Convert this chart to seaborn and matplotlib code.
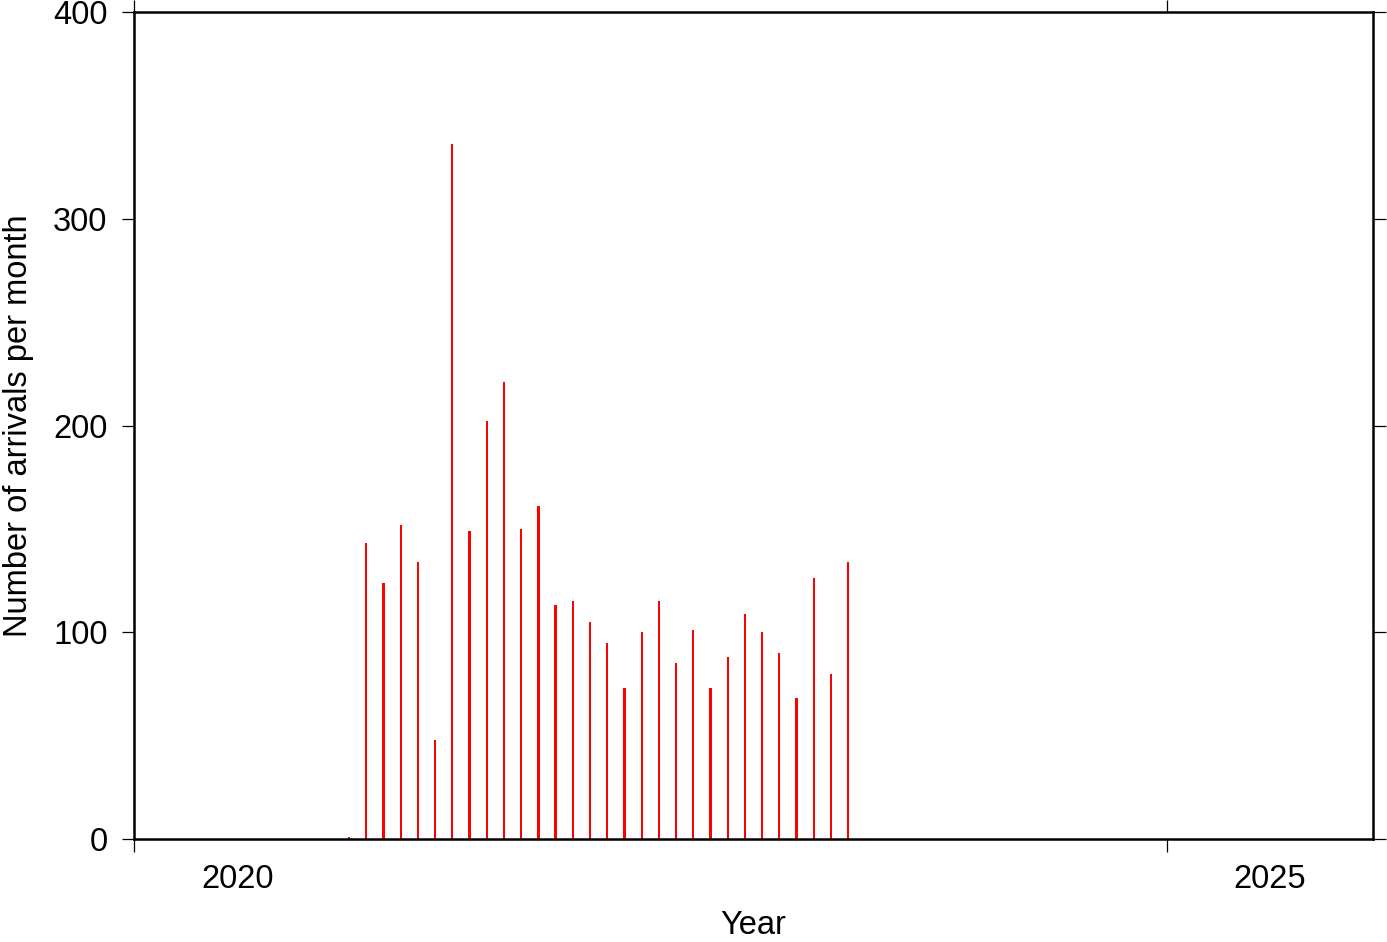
import numpy as np
import pandas as pd
import seaborn as sns
import matplotlib.pyplot as plt
from matplotlib.ticker import FixedLocator, NullFormatter

# monthly arrivals, Jan 2021 .. Jun 2023
months = pd.period_range("2021-01", "2023-06", freq="M")
counts = [1, 143, 124, 152, 134, 48, 336, 149, 202, 221,
          150, 161, 113, 115, 105, 95, 73, 100, 115, 85,
          101, 73, 88, 109, 100, 90, 68, 126, 80, 134]

# decimal year at the middle of each month
dec_year = [m.year + (m.month - 0.5) / 12 for m in months]
df = pd.DataFrame({"year": dec_year, "arrivals": counts})

sns.set_style("white", {"xtick.bottom": True, "ytick.left": True,
                        "text.color": "black", "axes.labelcolor": "black",
                        "xtick.color": "black", "ytick.color": "black"})
plt.rcParams["font.family"] = ["Liberation Sans", "DejaVu Sans"]

fig = plt.figure(figsize=(13.87, 9.42), dpi=100)
ax = fig.add_axes([134 / 1387, 1 - 839 / 942, (1373 - 134) / 1387, (839 - 12) / 942])

sns.barplot(data=df, x="year", y="arrivals", native_scale=True, width=0.13,
            color="red", saturation=1, edgecolor="none", linewidth=0, ax=ax)

ax.set_xlim(2020, 2026)
ax.set_ylim(0, 400)

ax.xaxis.set_major_locator(FixedLocator([2020, 2025]))
ax.xaxis.set_major_formatter(NullFormatter())
ax.xaxis.set_minor_locator(FixedLocator([2020.5, 2025.5]))
ax.set_xticklabels(["2020", "2025"], minor=True)
ax.set_yticks([0, 100, 200, 300, 400])

ax.tick_params(axis="both", which="major", direction="out", length=9, width=0.9,
               color="black", labelcolor="black", top=True, right=True,
               bottom=True, left=True, labelsize=23.5)
ax.tick_params(axis="y", which="major", pad=10)
ax.tick_params(axis="x", which="minor", length=0, pad=18, labelsize=23.5,
               labelcolor="black")

for s in ax.spines.values():
    s.set_linewidth(1.8)
    s.set_color("black")

ax.set_xlabel("Year", fontsize=23.5, labelpad=11, color="black")
ax.set_ylabel("Number of arrivals per month", fontsize=23.5, labelpad=14,
              color="black")

fig.savefig("out.png", dpi=100)
